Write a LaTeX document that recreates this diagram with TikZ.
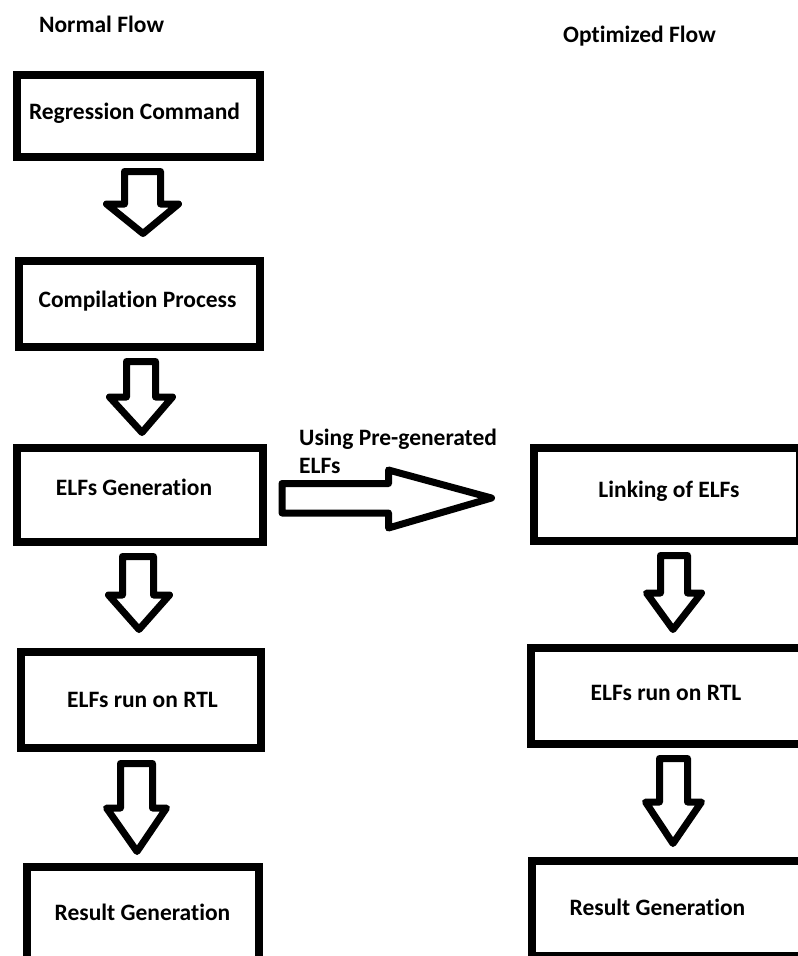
\documentclass[tikz,border=0pt]{standalone}
\usepackage{fontspec}
\setmainfont{Carlito}[Ligatures={NoCommon}]
\newcommand\blockdown[8]{%
  \draw[blockarr] (#1,#3) -- (#2,#3) -- (#2,#4) -- (#6,#4) -- (#7,#8) -- (#5,#4) -- (#1,#4) -- cycle;}
\begin{document}
\begin{tikzpicture}[x=1pt,y=-1pt,
  box/.style={draw=black, line width=8pt, inner sep=0pt, fill=none},
  lbl/.style={font=\fontsize{23.5}{28}\selectfont\bfseries, text=black, inner sep=0pt, anchor=base},
  blockarr/.style={draw=black, line width=7pt, line join=round, fill=white}]
\useasboundingbox (0,0) rectangle (798,956);
\clip (0,0) rectangle (798,956);

% titles
\node[lbl] (tnormal) at (101.5,32) {Normal Flow};
\node[lbl] (topt) at (639.5,42) {Optimized Flow};

% left column boxes
\node[box, minimum width=243pt, minimum height=82pt] (b1) at (138.5,116) {};
\node[box, minimum width=241pt, minimum height=86pt] (b2) at (139.5,304) {};
\node[box, minimum width=246pt, minimum height=94pt] (b3) at (140,495) {};
\node[box, minimum width=240pt, minimum height=96pt] (b4) at (141,700) {};
\node[box, minimum width=232pt, minimum height=95pt] (b5) at (143,914.5) {};

% right column boxes
\node[box, minimum width=266pt, minimum height=93pt] (r1) at (667,494.5) {};
\node[box, minimum width=275pt, minimum height=96pt] (r2) at (668.5,696) {};
\node[box, minimum width=274pt, minimum height=95pt] (r3) at (669,908.5) {};

% box texts
\node[lbl] (t1) at (134.5,119) {Regression Command};
\node[lbl] (t2) at (137.5,307) {Compilation Process};
\node[lbl] (t3) at (134,495) {ELFs Generation};
\node[lbl] (t4) at (142.5,707) {ELFs run on RTL};
\node[lbl] (t5) at (142.5,920) {Result Generation};
\node[lbl] (u1) at (669,497) {Linking of ELFs};
\node[lbl] (u2) at (666,700) {ELFs run on RTL};
\node[lbl] (u3) at (657.5,915) {Result Generation};

% left column block arrows
\blockdown{124.5}{160.5}{171.5}{204}{106.5}{178.5}{143}{233.5}
\blockdown{126.5}{155.5}{361.5}{397}{109.5}{172.5}{142}{432.5}
\blockdown{122.5}{153.5}{556.5}{595}{108.5}{169.5}{139}{629.5}
\blockdown{120.5}{152.5}{763.5}{808}{106.5}{166.5}{137}{851.5}

% right column block arrows
\blockdown{660.5}{687.5}{555.5}{593}{646.5}{701.5}{673}{629.5}
\blockdown{659.5}{687.5}{758.5}{802}{645.5}{701.5}{673}{843.5}

% horizontal block arrow
\draw[blockarr] (282,483.5) -- (388.5,483.5) -- (388.5,470) -- (491.5,498)
  -- (388.5,528) -- (388.5,513) -- (282,513) -- cycle;
\node[lbl, anchor=base west, align=left] (ulab) at (299,473) {Using Pre-generated\\ELFs};
\end{tikzpicture}
\end{document}
